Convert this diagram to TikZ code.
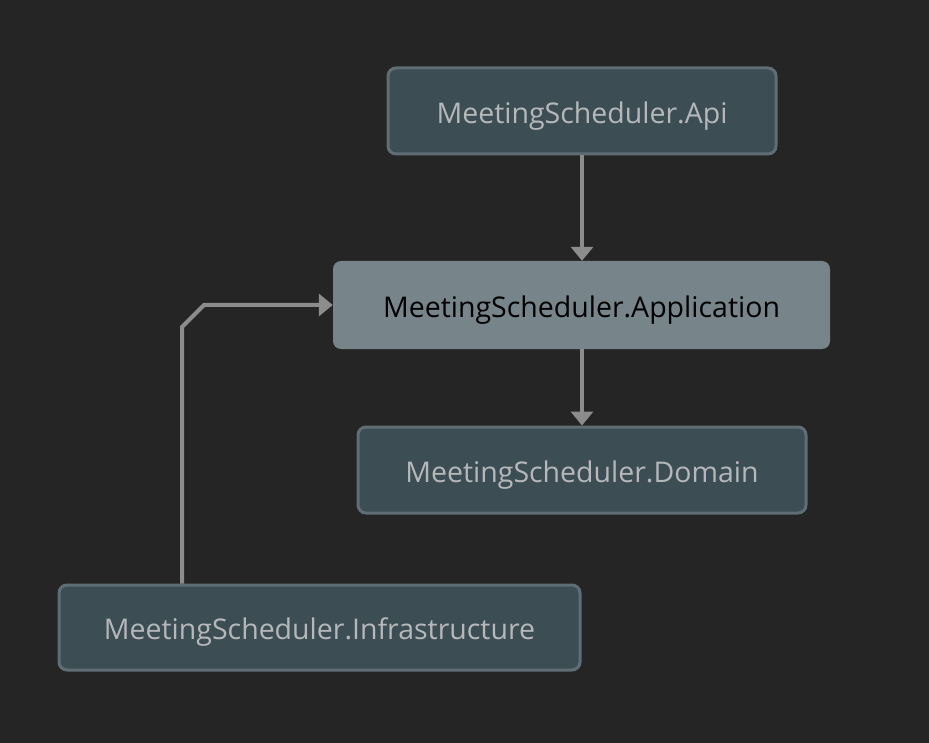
\documentclass[tikz,border=0pt]{standalone}
\usepackage{fontspec}
\setmainfont{Open Sans}
\usetikzlibrary{arrows.meta}
\definecolor{bgc}{HTML}{252525}
\definecolor{nodefill}{HTML}{3D4D54}
\definecolor{nodeborder}{HTML}{5F6E74}
\definecolor{appfill}{HTML}{77858A}
\definecolor{txtc}{HTML}{B4B8BA}
\definecolor{edgec}{HTML}{8C8C8C}
\newcommand{\lbl}[1]{\raisebox{-5pt}[\height][\depth]{#1}}
\tikzset{
  pkg/.style={draw=nodeborder, line width=3pt, fill=nodefill, rounded corners=8pt, text=txtc, font=\fontsize{28.5}{32}\selectfont, inner sep=0pt},
  apppkg/.style={fill=appfill, rounded corners=8pt, text=black, font=\fontsize{28.5}{32}\selectfont, inner sep=0pt},
  dep/.style={draw=edgec, line width=4pt, -{Triangle[width=22pt,length=14pt]}},
}
\begin{document}
\begin{tikzpicture}[x=1pt,y=-1pt]
\fill[bgc] (0,0) rectangle (929,743);
\useasboundingbox (0,0) rectangle (929,743);
\node[pkg, minimum width=388pt, minimum height=86pt] (api) at (582,111) {\lbl{MeetingScheduler.Api}};
\node[apppkg, minimum width=497pt, minimum height=88pt] (app) at (581.5,305) {\lbl{MeetingScheduler.Application}};
\node[pkg, minimum width=448pt, minimum height=86pt] (dom) at (582,470) {\lbl{MeetingScheduler.Domain}};
\node[pkg, minimum width=521pt, minimum height=85pt] (inf) at (319.5,627.5) {\lbl{MeetingScheduler.Infrastructure}};
\draw[dep] (api.south -| 582,0) -- (app.north -| 582,0);
\draw[dep] (app.south -| 582,0) -- (dom.north -| 582,0);
\draw[dep] (inf.north -| 182,0) -- (182,327) -- (204,305) -- (app.west);
\end{tikzpicture}
\end{document}
